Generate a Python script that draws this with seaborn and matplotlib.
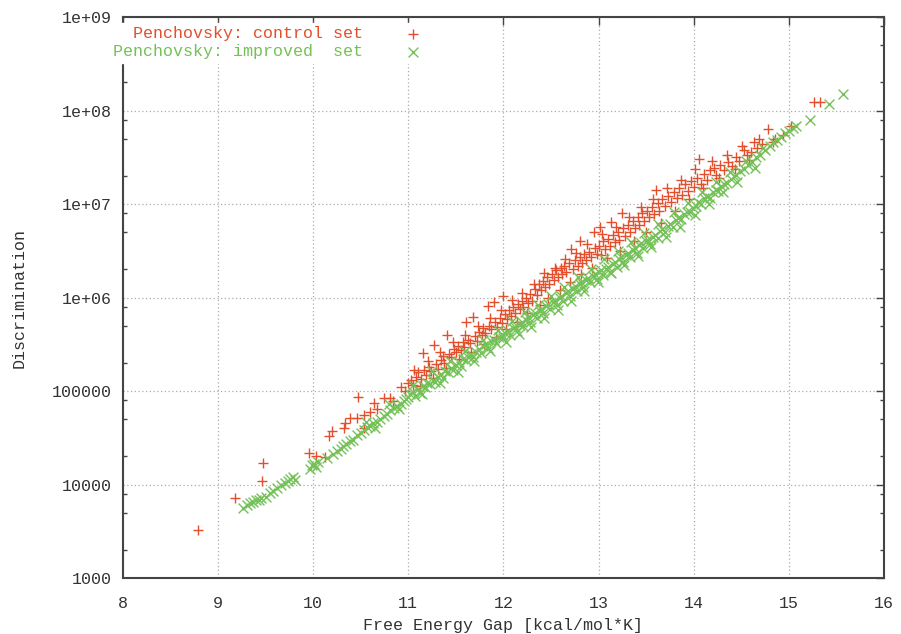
import pandas as pd
import seaborn as sns
import matplotlib.pyplot as plt
from matplotlib.ticker import LogLocator, NullFormatter

# Penchovsky: control set (x = free energy gap, y = discrimination)
control_gap = [
    8.79, 9.18, 9.46, 9.47, 9.96, 10.03, 10.12, 10.17, 10.20, 10.32,
    10.33, 10.39, 10.46, 10.47, 10.53, 10.53, 10.60, 10.64, 10.67, 10.74,
    10.81, 10.84, 10.92, 10.96, 11.00, 11.03, 11.05,
    11.08, 11.10, 11.13, 11.15, 11.17, 11.19, 11.22, 11.24, 11.27, 11.29,
    11.31, 11.34, 11.36, 11.38, 11.41, 11.43, 11.45, 11.48, 11.50, 11.52,
    11.55, 11.57, 11.59, 11.61, 11.63, 11.65, 11.68, 11.70, 11.72, 11.74,
    11.77, 11.79, 11.81, 11.84, 11.85, 11.87, 11.90, 11.91, 11.93, 11.96,
    11.98, 12.00,
    12.02, 12.04, 12.06, 12.08, 12.10, 12.12, 12.15, 12.17, 12.19, 12.21,
    12.24, 12.26, 12.28, 12.30, 12.33, 12.35, 12.37, 12.39, 12.42, 12.44,
    12.46, 12.48, 12.51, 12.53, 12.55, 12.57, 12.60, 12.62, 12.64, 12.66,
    12.69, 12.71, 12.73, 12.75, 12.78, 12.80, 12.81, 12.83, 12.85, 12.87,
    12.90, 12.92, 12.95, 12.96, 12.98,
    13.00, 13.02, 13.03, 13.05, 13.07, 13.10, 13.12, 13.13, 13.15, 13.17,
    13.20, 13.22, 13.25, 13.26, 13.28, 13.31, 13.33, 13.36, 13.38, 13.41,
    13.43, 13.46, 13.48, 13.51, 13.53, 13.56, 13.58, 13.60, 13.62, 13.64,
    13.67, 13.70, 13.73, 13.76, 13.79, 13.82, 13.85, 13.88, 13.91, 13.94,
    13.97,
    14.00, 14.03, 14.06, 14.08, 14.11, 14.14, 14.17, 14.21, 14.24, 14.28,
    14.32, 14.36, 14.40, 14.44, 14.48, 14.53, 14.56, 14.60, 14.63, 14.67,
    14.72, 14.78, 14.83, 14.85, 14.94, 15.02, 15.27, 15.33,
    # upper / lower edge of the band
    11.06, 11.12, 11.21, 11.26, 11.33, 11.40, 11.47, 11.53, 11.60, 11.66,
    11.73, 11.80, 11.86, 11.92, 11.97, 12.03, 12.09, 12.14, 12.20, 12.25,
    12.32, 12.38, 12.43, 12.47, 12.54, 12.59, 12.65, 12.70, 12.76, 12.82,
    12.88, 12.93, 13.04, 13.09, 13.18, 13.23, 13.32, 13.37, 13.45, 13.50,
    13.57, 13.66, 13.72, 13.80, 13.87, 13.95, 14.01, 14.10, 14.19, 14.27,
    14.35, 14.43, 14.51, 14.58, 14.69,
]
control_disc = [
    3.3e3, 7.2e3, 1.1e4, 1.7e4, 2.2e4, 2.0e4, 1.95e4, 3.3e4, 3.7e4, 4.0e4,
    4.5e4, 5.1e4, 5.2e4, 8.7e4, 5.5e4, 4.0e4, 6.0e4, 7.4e4, 6.5e4, 8.5e4,
    8.5e4, 7.9e4, 1.1e5, 1.0e5, 1.23e5, 1.32e5, 1.15e5,
    1.41e5, 1.58e5, 1.35e5, 2.57e5, 1.66e5, 1.48e5, 1.82e5, 1.62e5, 3.09e5, 1.95e5,
    1.74e5, 2.14e5, 2.4e5, 2.0e5, 3.98e5, 2.51e5, 2.29e5, 2.82e5, 2.63e5, 3.02e5,
    2.75e5, 3.31e5, 2.95e5, 5.5e5, 3.55e5, 3.24e5, 6.17e5, 3.89e5, 3.47e5, 4.27e5,
    3.98e5, 4.68e5, 4.17e5, 8.13e5, 5.01e5, 4.57e5, 8.91e5, 5.5e5, 4.9e5, 6.03e5,
    5.37e5, 1.05e6,
    6.6e5, 5.9e5, 7.4e5, 6.3e5, 7.9e5, 6.9e5, 8.5e5, 7.6e5, 9.3e5, 7.9e5,
    1.0e6, 8.7e5, 1.1e6, 9.3e5, 1.22e6, 1.07e6, 1.38e6, 1.2e6, 1.5e6, 1.3e6,
    1.65e6, 1.4e6, 1.78e6, 1.55e6, 1.95e6, 1.66e6, 2.05e6, 1.8e6, 2.2e6, 1.9e6,
    2.35e6, 3.31e6, 2.0e6, 2.5e6, 2.2e6, 2.7e6, 3.98e6, 2.35e6, 2.95e6, 2.55e6,
    3.1e6, 2.7e6, 5.01e6, 3.39e6, 2.95e6,
    3.55e6, 5.62e6, 2.88e6, 3.98e6, 3.31e6, 4.27e6, 3.55e6, 6.46e6, 4.68e6, 3.89e6,
    5.01e6, 4.17e6, 7.94e6, 5.5e6, 4.57e6, 6.03e6, 5.01e6, 6.61e6, 5.5e6, 7.24e6,
    6.03e6, 7.94e6, 6.61e6, 8.51e6, 7.24e6, 9.33e6, 7.76e6, 1.41e7, 1.02e7, 8.51e6,
    1.12e7, 9.55e6, 1.23e7, 1.05e7, 1.35e7, 1.15e7, 1.48e7, 1.26e7, 1.62e7, 1.38e7,
    1.78e7,
    1.51e7, 1.91e7, 3.02e7, 1.66e7, 2.09e7, 1.82e7, 2.29e7, 2.45e7, 2.04e7, 2.63e7,
    2.29e7, 2.82e7, 2.57e7, 3.16e7, 2.88e7, 3.8e7, 3.31e7, 3.63e7, 4.57e7, 3.98e7,
    4.37e7, 6.31e7, 4.57e7, 5.01e7, 5.5e7, 6.76e7, 1.23e8, 1.23e8,
    1.66e5, 1.12e5, 2.09e5, 1.38e5, 2.63e5, 1.78e5, 3.31e5, 2.19e5, 3.98e5, 2.63e5,
    5.01e5, 3.16e5, 6.03e5, 3.8e5, 7.41e5, 4.57e5, 9.33e5, 5.5e5, 1.12e6, 6.76e5,
    1.38e6, 8.32e5, 1.82e6, 1.0e6, 2.09e6, 1.2e6, 2.57e6, 1.48e6, 3.02e6, 1.78e6,
    3.72e6, 2.09e6, 4.79e6, 2.63e6, 5.75e6, 3.16e6, 7.24e6, 3.98e6, 9.33e6, 5.01e6,
    1.12e7, 6.31e6, 1.48e7, 8.51e6, 1.82e7, 1.12e7, 2.4e7, 1.48e7, 2.88e7, 1.91e7,
    3.31e7, 2.4e7, 4.17e7, 2.95e7, 5.01e7,
]

# Penchovsky: improved set
improved_gap = [
    9.26, 9.30, 9.34, 9.37, 9.40, 9.43, 9.45, 9.50, 9.55, 9.58,
    9.62, 9.66, 9.70, 9.73, 9.76, 9.79, 9.81, 9.97, 9.99, 10.01,
    10.03, 10.05,
    10.15, 10.21, 10.25, 10.29, 10.31, 10.35, 10.39, 10.42, 10.46, 10.50,
    10.53, 10.57, 10.60, 10.63, 10.67, 10.70, 10.74, 10.78, 10.81, 10.85,
    10.88, 10.92, 10.95, 10.98, 11.00,
    11.02, 11.05, 11.07, 11.10, 11.12, 11.15, 11.18, 11.20, 11.23, 11.26,
    11.28, 11.31, 11.34, 11.36, 11.39, 11.42, 11.45, 11.47, 11.50, 11.53,
    11.55, 11.58, 11.61, 11.63, 11.66, 11.68, 11.71, 11.74, 11.76, 11.79,
    11.82, 11.84, 11.87, 11.90, 11.92, 11.95, 11.98,
    12.00, 12.02, 12.05, 12.07, 12.10, 12.12, 12.14, 12.17, 12.19, 12.21,
    12.24, 12.26, 12.28, 12.31, 12.33, 12.35, 12.38, 12.40, 12.42, 12.45,
    12.47, 12.49, 12.52, 12.54, 12.56, 12.59, 12.61, 12.63, 12.66, 12.68,
    12.70, 12.73, 12.75, 12.77, 12.80, 12.82, 12.84, 12.87, 12.89, 12.91,
    12.94, 12.96, 12.98,
    13.01, 13.03, 13.05, 13.08, 13.10, 13.12, 13.15, 13.17, 13.19, 13.22,
    13.24, 13.26, 13.29, 13.31, 13.33, 13.36, 13.38, 13.40, 13.43, 13.45,
    13.47, 13.50, 13.52, 13.54, 13.57, 13.59, 13.62, 13.65, 13.67, 13.70,
    13.73, 13.75, 13.78, 13.81, 13.84, 13.87, 13.90, 13.93, 13.96, 13.99,
    14.02, 14.05, 14.08, 14.11, 14.14, 14.17, 14.20, 14.23, 14.26, 14.29,
    14.32, 14.35, 14.39, 14.42, 14.45, 14.49, 14.53, 14.57, 14.61, 14.66,
    14.70, 14.75, 14.80, 14.83, 14.88, 14.92, 14.96, 15.00, 15.04, 15.08,
    15.22, 15.42, 15.57,
    # upper / lower edge of the band
    10.55, 10.65, 10.80, 10.90, 11.05, 11.14, 11.25, 11.33, 11.44, 11.52,
    11.60, 11.69, 11.78, 11.86, 11.94, 12.03, 12.09, 12.16, 12.23, 12.29,
    12.36, 12.43, 12.50, 12.57, 12.64, 12.71, 12.78, 12.85, 12.92, 12.99,
    13.06, 13.13, 13.20, 13.27, 13.34, 13.41, 13.48, 13.55, 13.63, 13.71,
    13.79, 13.86, 13.94, 14.01, 14.09, 14.16, 14.24, 14.31, 14.38, 14.46,
    14.55, 14.64, 14.73,
]
improved_disc = [
    5.6e3, 6.0e3, 6.3e3, 6.5e3, 6.9e3, 6.8e3, 7.2e3, 7.4e3, 8.1e3, 8.5e3,
    9.1e3, 1.0e4, 1.05e4, 1.1e4, 1.15e4, 1.2e4, 1.12e4, 1.45e4, 1.6e4, 1.66e4,
    1.55e4, 1.74e4,
    1.9e4, 2.1e4, 2.3e4, 2.4e4, 2.57e4, 2.7e4, 2.9e4, 3.0e4, 3.4e4, 3.55e4,
    3.8e4, 4.1e4, 4.2e4, 4.6e4, 4.7e4, 5.0e4, 5.4e4, 5.75e4, 6.2e4, 6.6e4,
    6.9e4, 7.2e4, 7.8e4, 8.3e4, 8.7e4,
    9.3e4, 9.8e4, 8.9e4, 1.05e5, 9.5e4, 1.12e5, 1.1e5, 1.23e5, 1.2e5, 1.32e5,
    1.26e5, 1.41e5, 1.51e5, 1.38e5, 1.62e5, 1.58e5, 1.78e5, 1.66e5, 1.9e5, 2.04e5,
    1.86e5, 2.19e5, 2.14e5, 2.34e5, 2.51e5, 2.29e5, 2.63e5, 2.82e5, 2.57e5, 3.02e5,
    3.16e5, 2.88e5, 3.39e5, 3.55e5, 3.24e5, 3.8e5, 3.98e5,
    3.7e5, 4.2e5, 4.4e5, 4.0e5, 4.7e5, 4.9e5, 4.4e5, 5.1e5, 5.5e5, 5.0e5,
    5.75e5, 6.2e5, 5.5e5, 6.5e5, 6.8e5, 6.0e5, 7.2e5, 7.6e5, 6.8e5, 8.1e5,
    8.5e5, 7.6e5, 8.9e5, 9.3e5, 8.3e5, 1.0e6, 1.05e6, 9.3e5, 1.12e6, 1.17e6,
    1.05e6, 1.23e6, 1.32e6, 1.17e6, 1.41e6, 1.45e6, 1.29e6, 1.55e6, 1.62e6, 1.45e6,
    1.7e6, 1.78e6, 1.58e6,
    1.86e6, 1.95e6, 1.74e6, 2.04e6, 2.14e6, 1.9e6, 2.29e6, 2.4e6, 2.14e6, 2.57e6,
    2.69e6, 2.4e6, 2.88e6, 3.02e6, 2.69e6, 3.24e6, 3.39e6, 3.02e6, 3.63e6, 3.8e6,
    3.39e6, 4.07e6, 4.17e6, 3.72e6, 4.47e6, 4.68e6, 4.37e6, 5.13e6, 5.37e6, 5.01e6,
    5.89e6, 6.17e6, 5.75e6, 6.76e6, 7.08e6, 6.92e6, 7.76e6, 8.32e6, 8.13e6, 9.12e6,
    9.55e6, 1.05e7, 1.0e7, 1.15e7, 1.2e7, 1.17e7, 1.35e7, 1.41e7, 1.38e7, 1.58e7,
    1.66e7, 1.7e7, 1.86e7, 2.0e7, 2.04e7, 2.24e7, 2.4e7, 2.63e7, 2.82e7, 3.16e7,
    3.39e7, 3.8e7, 4.17e7, 4.57e7, 4.79e7, 5.25e7, 5.75e7, 6.03e7, 6.46e7, 6.92e7,
    7.94e7, 1.17e8, 1.51e8,
    4.68e4, 3.98e4, 7.24e4, 6.46e4, 1.15e5, 9.33e4, 1.62e5, 1.23e5, 2.09e5, 1.58e5,
    2.69e5, 2.09e5, 3.55e5, 2.69e5, 4.47e5, 3.31e5, 5.62e5, 4.07e5, 7.08e5, 4.9e5,
    8.32e5, 6.03e5, 1.05e6, 7.41e5, 1.29e6, 9.12e5, 1.66e6, 1.17e6, 2.04e6, 1.45e6,
    2.57e6, 1.82e6, 3.16e6, 2.24e6, 3.89e6, 2.75e6, 4.9e6, 3.47e6, 6.17e6, 4.47e6,
    8.13e6, 5.75e6, 1.02e7, 7.59e6, 1.35e7, 1.0e7, 1.74e7, 1.35e7, 2.19e7, 1.74e7,
    2.88e7, 2.45e7, 3.98e7,
]

x_ticks = [8, 9, 10, 11, 12, 13, 14, 15, 16]
y_ticks = [1e3, 1e4, 1e5, 1e6, 1e7, 1e8, 1e9]
y_tick_labels = ["1000", "10000", "100000", "1e+06", "1e+07", "1e+08", "1e+09"]

red = "#e34f2c"
green = "#74c158"
ink = "#333333"

df_control = pd.DataFrame({"gap": control_gap, "disc": control_disc})
df_improved = pd.DataFrame({"gap": improved_gap, "disc": improved_disc})

sns.set_theme(style="white")
plt.rcParams["font.family"] = ["Liberation Mono", "DejaVu Sans Mono"]

fig, ax = plt.subplots(figsize=(9.01, 6.34), dpi=100)
fig.subplots_adjust(left=0.1365, right=0.981, bottom=0.0883, top=0.973)

sns.scatterplot(data=df_control, x="gap", y="disc", marker="+", s=60,
                color=red, linewidth=1.0, label="  Penchovsky: control set", ax=ax)
sns.scatterplot(data=df_improved, x="gap", y="disc", marker="x", s=50,
                color=green, linewidth=1.0, label="Penchovsky: improved  set", ax=ax)

ax.set_yscale("log")
ax.set_xlim(8, 16)
ax.set_ylim(1e3, 1e9)
ax.set_xticks(x_ticks)
ax.set_xticklabels([str(t) for t in x_ticks])
ax.set_yticks(y_ticks)
ax.set_yticklabels(y_tick_labels)
ax.yaxis.set_minor_locator(LogLocator(base=10, subs=(2.0, 5.0, 8.0)))
ax.yaxis.set_minor_formatter(NullFormatter())

ax.grid(True, which="major", color="#aaaaaa", linestyle=(0, (1, 2)), linewidth=0.9)
ax.tick_params(axis="both", which="major", direction="in", length=6, width=1,
               top=True, right=True, labelsize=12, labelcolor=ink, color="#444444")
ax.tick_params(axis="x", which="major", pad=13)
ax.tick_params(axis="y", which="major", pad=8)
ax.tick_params(axis="y", which="minor", direction="in", length=3, width=1,
               left=True, right=True, color="#444444")
for sp in ax.spines.values():
    sp.set_color("#444444")
    sp.set_linewidth(1.5)

ax.set_xlabel("Free Energy Gap [kcal/mol*K]", fontsize=12, color=ink, labelpad=5)
ax.set_ylabel("Discrimination", fontsize=12, color=ink, labelpad=18)

leg = ax.legend(loc="upper left", bbox_to_anchor=(-0.017, 0.99), markerfirst=False,
                fontsize=12, labelcolor=[red, green], frameon=True, framealpha=1,
                facecolor="white", edgecolor="white", borderpad=0.2,
                labelspacing=0.2, handlelength=1.2, handletextpad=2.4,
                borderaxespad=0, fancybox=False)
leg.set_zorder(5)

fig.savefig("out.png", dpi=100)
